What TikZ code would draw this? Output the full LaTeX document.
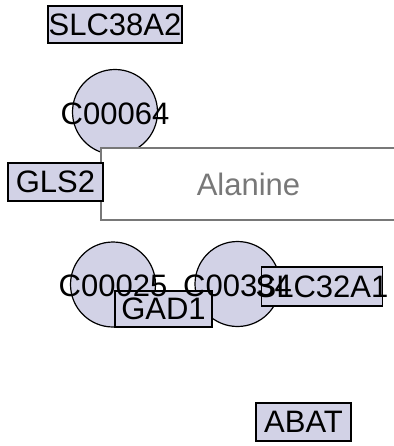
\documentclass[tikz,border=0pt]{standalone}
\usepackage{fontspec}
\setmainfont{Liberation Sans}
\definecolor{nodefill}{RGB}{210,210,230}
\definecolor{maplabel}{RGB}{120,120,120}
\tikzset{
  gene/.style={draw=black,fill=nodefill,line width=1.2pt,inner sep=0pt,
    font=\fontsize{31}{36}\selectfont},
  cpd/.style={circle,draw=black,fill=nodefill,line width=1.2pt,minimum size=85pt,inner sep=0pt},
  cpdtext/.style={inner sep=0pt,font=\fontsize{31}{36}\selectfont},
  pathmap/.style={draw=maplabel,fill=white,line width=1.3pt,inner sep=0pt,text=maplabel,
    font=\fontsize{31}{36}\selectfont}
}
\begin{document}
\begin{tikzpicture}[x=1pt,y=-1pt]
  \useasboundingbox (0,0) rectangle (393,446);
  % compounds
  \node[cpd] (c00064) at (115,112) {};
  \node[cpd] (c00025) at (113,284.5) {};
  \node[cpd] (c00334) at (237.5,284) {};
  % pathway map
  \node[pathmap,minimum width=295pt,minimum height=72pt] (alanine) at (248.5,184) {Alanine};
  % genes
  \node[gene,minimum width=134pt,minimum height=37pt] (slc38a2) at (115,24.5) {SLC38A2};
  \node[gene,minimum width=95pt,minimum height=38pt] (gls2) at (55.5,182) {GLS2};
  \node[gene,minimum width=97pt,minimum height=36pt] (gad1) at (163.5,309) {GAD1};
  \node[gene,inner xsep=-6pt,minimum height=39pt] (slc32a1) at (322,286.5) {SLC32A1};
  \node[gene,minimum width=95pt,minimum height=38pt] (abat) at (303.5,422) {ABAT};
  % compound names on top
  \node[cpdtext] (c00064-name) at (115,114) {C00064};
  \node[cpdtext] (c00025-name) at (113,285.5) {C00025};
  \node[cpdtext] (c00334-name) at (237.5,285.5) {C00334};
\end{tikzpicture}
\end{document}
